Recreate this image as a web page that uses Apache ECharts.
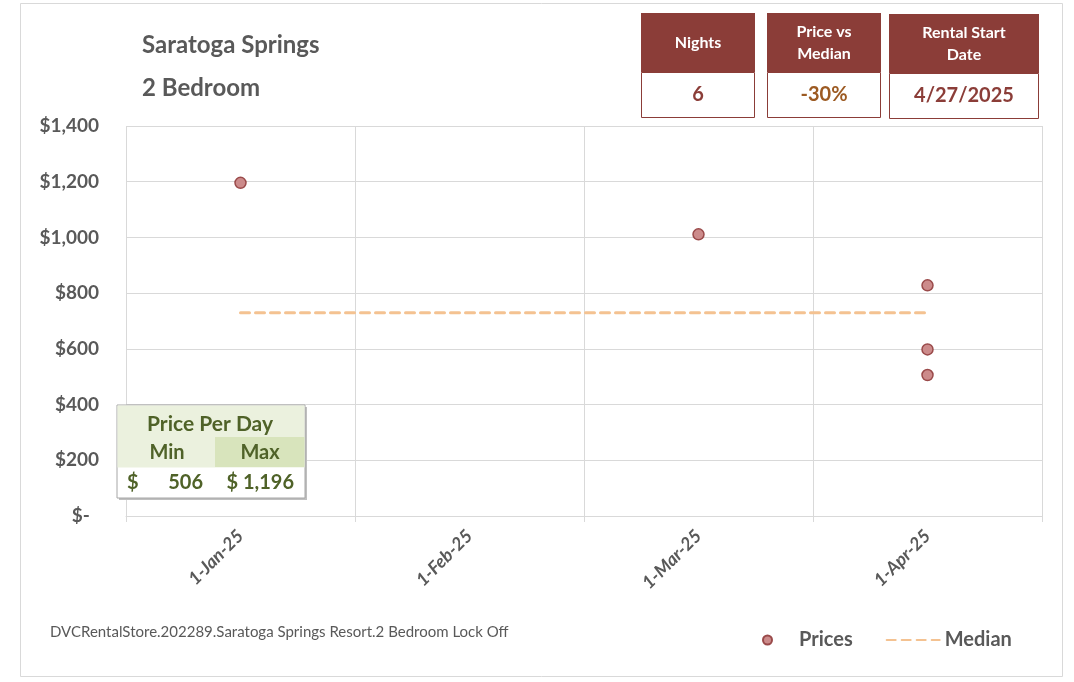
<!DOCTYPE html>
<html>
<head>
<meta charset="utf-8">
<script src="https://cdn.jsdelivr.net/npm/echarts@6/dist/echarts.min.js"></script>
<style>
  html, body { margin: 0; padding: 0; background: #fff; }
  #chart { width: 1074px; height: 682px; }
</style>
</head>
<body>
<div id="chart"></div>
<script>
// data
var months = ['1-Jan-25', '1-Feb-25', '1-Mar-25', '1-Apr-25'];
var priceMonths = ['1-Jan-25', '1-Mar-25', '1-Apr-25', '1-Apr-25', '1-Apr-25'];
var prices = [1196, 1011, 828, 598, 506];
var median = [730, 730, 730, 730];
var yTicks = [0, 200, 400, 600, 800, 1000, 1200, 1400];
var nights = '6';
var priceVsMedian = '-30%';
var startDate = '4/27/2025';
var footer = 'DVCRentalStore.202289.Saratoga Springs Resort.2 Bedroom Lock Off';

var FONT = 'Lato, "Open Sans", sans-serif';
var RED = '#8B3D38';
var GREEN = '#4F6228';
var GREY = '#595959';

var minP = Math.min.apply(null, prices);
var maxP = Math.max.apply(null, prices);

function money(v) {
    return v.toString().replace(/\B(?=(\d{3})+(?!\d))/g, ',');
}

var chart = echarts.init(document.getElementById('chart'));

//上面的三个小框
function box(x, w, y, hh, head, value, valueColor) {
    return [
        {type: 'rect', shape: {x: x, y: y, width: w, height: hh}, style: {fill: RED}},
        {type: 'rect', shape: {x: x + 0.5, y: y + hh + 0.5, width: w - 1, height: 45}, style: {fill: '#fff', stroke: RED, lineWidth: 1}},
        {type: 'text', x: x + w / 2, y: y + hh / 2, style: {text: head, fill: '#fff', font: 'bold 16px ' + FONT, align: 'center', verticalAlign: 'middle', lineHeight: 22}},
        {type: 'text', x: x + w / 2, y: y + hh + 23, style: {text: value, fill: valueColor, font: 'bold 20px ' + FONT, align: 'center', verticalAlign: 'middle'}}
    ];
}

var graphics = [
    {type: 'rect', shape: {x: 20.5, y: 3.5, width: 1042, height: 673}, style: {fill: 'none', stroke: '#D9D9D9', lineWidth: 1}, z: -1},
    {type: 'text', x: 142, y: 45, style: {text: 'Saratoga Springs', fill: GREY, font: 'bold 24px ' + FONT, verticalAlign: 'middle'}},
    {type: 'text', x: 142, y: 88, style: {text: '2 Bedroom', fill: GREY, font: 'bold 24px ' + FONT, verticalAlign: 'middle'}},
    {type: 'text', x: 50, y: 632, style: {text: footer, fill: GREY, font: '15px ' + FONT, verticalAlign: 'middle'}}
];
graphics = graphics
    .concat(box(641, 114, 13, 59, 'Nights', nights, RED))
    .concat(box(767, 114, 13, 59, 'Price vs\nMedian', priceVsMedian, '#9C5A22'))
    .concat(box(889, 150, 14, 59, 'Rental Start\nDate', startDate, RED));

//Price Per Day 表
graphics = graphics.concat([
    {type: 'rect', shape: {x: 119, y: 407, width: 188, height: 93}, style: {fill: '#BFBFBF'}, z: 10},
    {type: 'rect', shape: {x: 117, y: 405, width: 188, height: 93}, style: {fill: '#fff', stroke: '#A6A6A6', lineWidth: 1}, z: 10},
    {type: 'rect', shape: {x: 117.5, y: 405.5, width: 187, height: 62}, style: {fill: '#EBF1DE'}, z: 10},
    {type: 'rect', shape: {x: 215, y: 437, width: 89.5, height: 30}, style: {fill: '#D8E4BC'}, z: 10},
    {type: 'text', x: 210, y: 424, style: {text: 'Price Per Day', fill: GREEN, font: 'bold 21px ' + FONT, align: 'center', verticalAlign: 'middle'}, z: 11},
    {type: 'text', x: 167, y: 453, style: {text: 'Min', fill: GREEN, font: 'bold 20px ' + FONT, align: 'center', verticalAlign: 'middle'}, z: 11},
    {type: 'text', x: 260, y: 453, style: {text: 'Max', fill: GREEN, font: 'bold 20px ' + FONT, align: 'center', verticalAlign: 'middle'}, z: 11},
    {type: 'text', x: 127, y: 483, style: {text: '$', fill: GREEN, font: 'bold 20px ' + FONT, verticalAlign: 'middle'}, z: 11},
    {type: 'text', x: 203, y: 483, style: {text: money(minP), fill: GREEN, font: 'bold 20px ' + FONT, align: 'right', verticalAlign: 'middle'}, z: 11},
    {type: 'text', x: 294, y: 483, style: {text: '$ ' + money(maxP), fill: GREEN, font: 'bold 20px ' + FONT, align: 'right', verticalAlign: 'middle'}, z: 11}
]);

var option = {
    backgroundColor: '#fff',
    animation: false,
    grid: {left: 126, right: 32, top: 126, bottom: 166, containLabel: false},
    legend: {
        left: 757,
        top: 625,
        itemWidth: 53,
        itemHeight: 9,
        itemGap: 33,
        textStyle: {color: GREY, fontFamily: FONT, fontWeight: 'bold', fontSize: 20},
        data: [
            {name: 'Prices', icon: 'circle'},
            {name: 'Median', itemStyle: {opacity: 0}}
        ]
    },
    xAxis: {
        type: 'category',
        data: months,
        boundaryGap: true,
        axisLine: {show: true, lineStyle: {color: '#D9D9D9'}},
        axisTick: {show: true, length: 6, lineStyle: {color: '#D9D9D9'}},
        splitLine: {show: true, lineStyle: {color: '#D9D9D9', width: 1}},
        axisLabel: {
            rotate: 45,
            margin: 17,
            color: GREY,
            fontFamily: FONT,
            fontStyle: 'italic',
            fontWeight: 'bold',
            fontSize: 18
        }
    },
    yAxis: {
        type: 'value',
        min: yTicks[0],
        max: yTicks[yTicks.length - 1],
        interval: 200,
        axisLine: {show: false},
        axisTick: {show: false},
        splitLine: {show: true, lineStyle: {color: '#D9D9D9', width: 1}},
        axisLabel: {
            margin: 27,
            color: GREY,
            fontFamily: FONT,
            fontWeight: 'bold',
            fontSize: 19,
            formatter: function (v) {
                return v === 0 ? '$-  ' : '$' + money(v);
            }
        }
    },
    series: [
        {
            name: 'Prices',
            type: 'scatter',
            symbol: 'circle',
            symbolSize: 11,
            itemStyle: {color: '#CC8B8B', borderColor: '#9A4A4A', borderWidth: 1.5, opacity: 1},
            data: priceMonths.map(function (m, i) { return [m, prices[i]]; }),
            z: 3
        },
        {
            name: 'Median',
            type: 'line',
            symbol: 'none',
            data: median,
            lineStyle: {color: '#F4C291', width: 3, type: [9, 6], cap: 'round'},
            itemStyle: {color: '#F4C291'},
            z: 2
        }
    ],
    graphic: graphics
};

chart.setOption(option);
</script>
</body>
</html>
